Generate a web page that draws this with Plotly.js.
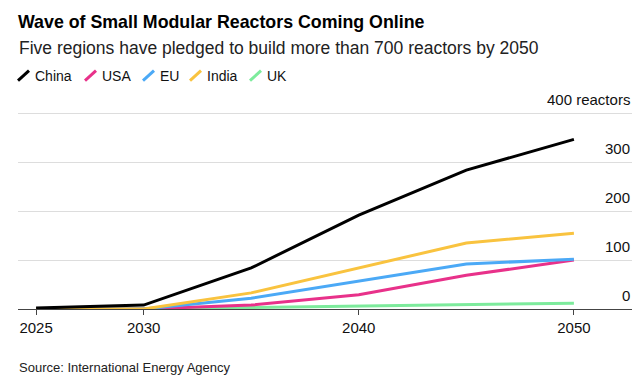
<!DOCTYPE html>
<html>
<head>
<meta charset="utf-8">
<script src="https://cdn.plot.ly/plotly-3.0.1.min.js"></script>
<style>
  html, body { margin: 0; padding: 0; background: #fff; }
  #chart { width: 644px; height: 386px; }
</style>
</head>
<body>
<div id="chart"></div>
<script>
// Data
const years = [2025, 2030, 2035, 2040, 2045, 2050];
const china = [2, 8, 84, 192, 284, 347];
const usa   = [0, 0, 8, 29, 69, 100];
const eu    = [0, 0, 22, 57, 92, 102];
const india = [0, 0, 33, 84, 135, 155];
const uk    = [0, 0, 3, 6, 9, 12];

const xTickVals = [2025, 2030, 2040, 2050];
const xTickText = ['2025', '2030', '2040', '2050'];
const yTickVals = [0, 100, 200, 300, 400];
const yTickText = ['0', '100', '200', '300', '400 reactors'];

const seriesNames = ['China', 'USA', 'EU', 'India', 'UK'];
const seriesData = [china, usa, eu, india, uk];
const seriesColors = ['#000000', '#e8318a', '#4ba9f6', '#f9c33f', '#7deb9c'];

const FONT = 'Liberation Sans, Arial, Helvetica, sans-serif';

const traces = seriesNames.map((name, i) => ({
  type: 'scatter',
  mode: 'lines',
  name: name,
  x: years,
  y: seriesData[i],
  line: { color: seriesColors[i], width: 3 },
  legendrank: i + 1,
  hoverinfo: 'skip'
}));
// draw China on top
const ordered = [traces[4], traces[1], traces[2], traces[3], traces[0]];

// y tick labels sit above their gridlines, right-aligned at the plot edge
const yLabelAnnotations = yTickVals.map((v, i) => ({
  text: yTickText[i],
  xref: 'paper', yref: 'y',
  x: 1, y: v, xanchor: 'right', yanchor: 'bottom',
  yshift: 3,
  showarrow: false,
  font: { family: FONT, size: 15, color: '#111' }
}));

const layout = {
  width: 644,
  height: 386,
  margin: { l: 18, r: 12, t: 89, b: 77 },
  paper_bgcolor: '#ffffff',
  plot_bgcolor: '#ffffff',
  font: { family: FONT, color: '#111', size: 14 },
  showlegend: true,
  title: {
    text: '<b>Wave of Small Modular Reactors Coming Online</b>',
    font: { family: FONT, size: 17.8, color: '#000' },
    x: 18 / 644, xref: 'container', xanchor: 'left',
    y: 1 - 22 / 386, yref: 'container', yanchor: 'middle'
  },
  legend: {
    orientation: 'h',
    x: -0.005, xanchor: 'left',
    y: 1.059, yanchor: 'middle',
    font: { family: FONT, size: 14, color: '#111' },
    itemwidth: 30,
    traceorder: 'normal',
    bgcolor: 'rgba(0,0,0,0)'
  },
  xaxis: {
    range: [2024.16, 2052.7],
    tickvals: xTickVals,
    ticktext: xTickText,
    ticks: 'outside',
    ticklen: 5,
    tickcolor: '#444',
    showline: true,
    linecolor: '#444',
    linewidth: 1,
    showgrid: false,
    zeroline: false,
    tickfont: { family: FONT, size: 15, color: '#111' },
    fixedrange: true
  },
  yaxis: {
    range: [0, 450],
    side: 'right',
    tickvals: yTickVals,
    showticklabels: false,
    ticks: '',
    showgrid: true,
    gridcolor: '#dddddd',
    gridwidth: 1,
    zeroline: false,
    showline: false,
    fixedrange: true
  },
  annotations: [
    {
      text: 'Five regions have pledged to build more than 700 reactors by 2050',
      xref: 'paper', yref: 'paper',
      x: 0, y: 1.186, xanchor: 'left', yanchor: 'middle',
      xshift: -1,
      showarrow: false,
      font: { family: FONT, size: 17.5, color: '#222' }
    },
    {
      text: 'Source: International Energy Agency',
      xref: 'paper', yref: 'paper',
      x: 0, y: -0.264, xanchor: 'left', yanchor: 'middle',
      xshift: -1,
      showarrow: false,
      font: { family: FONT, size: 13, color: '#222' }
    }
  ].concat(yLabelAnnotations)
};

const gd = document.getElementById('chart');
Plotly.newPlot(gd, ordered, layout, { displayModeBar: false, staticPlot: true }).then(() => {
  // Restyle legend swatches as short diagonal strokes, spaced like the reference
  const targets = [18, 85, 143, 190, 250];
  const items = gd.querySelectorAll('.legend .traces');
  items.forEach((item, i) => {
    const line = item.querySelector('path.js-line');
    const text = item.querySelector('.legendtext');
    if (!line || !text) return;
    const tr = item.getAttribute('transform') || 'translate(0,0)';
    const m = /translate\(\s*([-\d.e]+)[\s,]*([-\d.e]+)?\s*\)/.exec(tr);
    const tx = m ? parseFloat(m[1]) : 0;
    const ty = m && m[2] ? parseFloat(m[2]) : 0;
    const absStart = line.getBoundingClientRect().left - gd.getBoundingClientRect().left;
    const offset = absStart - (tx + 5);
    line.setAttribute('d', 'M2,5L13,-5');
    line.style.strokeLinecap = 'butt';
    text.setAttribute('x', '19');
    const newTx = targets[i] - offset - 2;
    item.setAttribute('transform', 'translate(' + newTx + ',' + ty + ')');
  });
});
</script>
</body>
</html>
